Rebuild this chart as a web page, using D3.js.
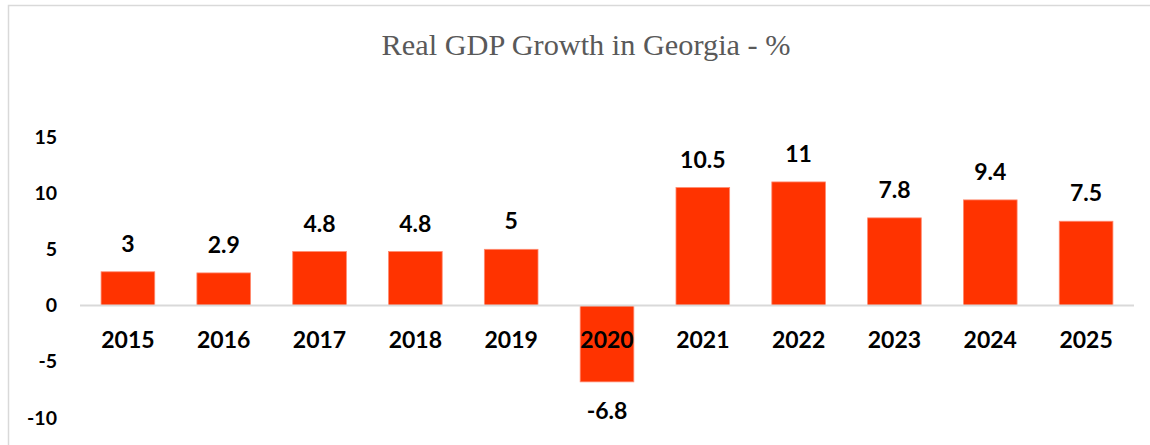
<!DOCTYPE html>
<html>
<head>
<meta charset="utf-8">
<script src="https://cdn.jsdelivr.net/npm/d3@7"></script>
<style>
  html, body { margin: 0; padding: 0; background: #fff; }
  svg { display: block; }
</style>
</head>
<body>
<script>
// Real GDP growth, percent, by year
const years = ["2015", "2016", "2017", "2018", "2019", "2020", "2021", "2022", "2023", "2024", "2025"];
const growth = [3, 2.9, 4.8, 4.8, 5, -6.8, 10.5, 11, 7.8, 9.4, 7.5];
const yTicks = [-10, -5, 0, 5, 10, 15];
const title = "Real GDP Growth in Georgia - %";

const W = 1150, H = 445;
const svg = d3.select("body").append("svg").attr("width", W).attr("height", H);

// chart frame
svg.append("rect")
  .attr("x", 8.5).attr("y", 5.5)
  .attr("width", W + 20).attr("height", H + 20)
  .attr("fill", "#fff").attr("stroke", "#d9d9d9").attr("stroke-width", 1.5);

svg.append("text")
  .attr("x", 586).attr("y", 55)
  .attr("text-anchor", "middle")
  .attr("font-family", "'Liberation Serif', serif")
  .attr("font-size", 30.3)
  .attr("fill", "#595959")
  .text(title);

const x = d3.scaleBand().domain(years).range([80, 1134]).paddingInner(0.44).paddingOuter(0.22);
const y = d3.scaleLinear().domain([-10, 15]).range([417.8, 137]);

const labelFont = "Lato, 'Open Sans', sans-serif";

// value axis: labels only, plain hyphen for negatives
const yAxis = svg.append("g")
  .attr("transform", "translate(57,0)")
  .call(d3.axisLeft(y).tickValues(yTicks).tickSize(0).tickPadding(0).tickFormat(d => String(d)));
yAxis.select(".domain").remove();
yAxis.selectAll("text")
  .attr("font-family", labelFont).attr("font-weight", 700)
  .attr("font-size", 19.5).attr("fill", "#000");

// bars
svg.append("g").selectAll("rect")
  .data(years)
  .join("rect")
  .attr("x", d => x(d))
  .attr("width", x.bandwidth())
  .attr("y", (d, i) => y(Math.max(0, growth[i])))
  .attr("height", (d, i) => Math.abs(y(growth[i]) - y(0)))
  .attr("fill", "#ff3300")
  .attr("stroke", "#ff8a70").attr("stroke-width", 0.8);

// zero baseline
svg.append("line")
  .attr("x1", 80).attr("x2", 1134)
  .attr("y1", y(0)).attr("y2", y(0))
  .attr("stroke", "#d9d9d9").attr("stroke-width", 2);

// category labels below the baseline
svg.append("g").selectAll("text")
  .data(years)
  .join("text")
  .attr("x", d => x(d) + x.bandwidth() / 2)
  .attr("y", y(0) + 43)
  .attr("text-anchor", "middle")
  .attr("font-family", labelFont).attr("font-weight", 700)
  .attr("font-size", 23).attr("fill", "#000")
  .text(d => d);

// value labels
svg.append("g").selectAll("text")
  .data(years)
  .join("text")
  .attr("x", d => x(d) + x.bandwidth() / 2)
  .attr("y", (d, i) => growth[i] >= 0 ? y(growth[i]) - 20 : y(growth[i]) + 37)
  .attr("text-anchor", "middle")
  .attr("font-family", labelFont).attr("font-weight", 700)
  .attr("font-size", 23).attr("fill", "#000")
  .text((d, i) => growth[i]);
</script>
</body>
</html>
